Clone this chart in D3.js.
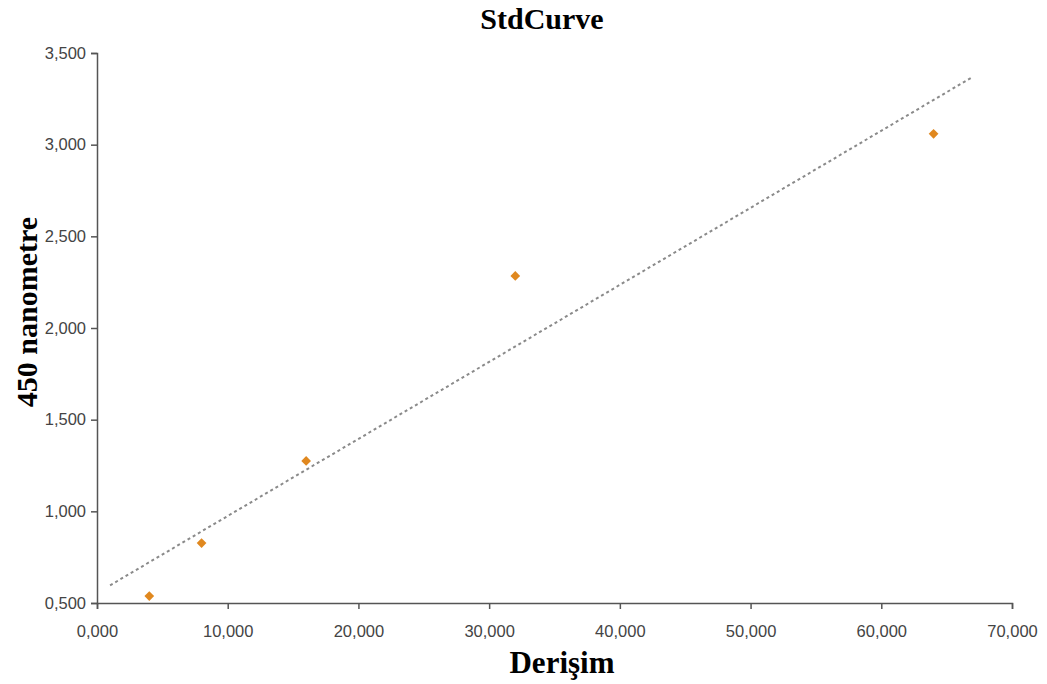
<!DOCTYPE html>
<html>
<head>
<meta charset="utf-8">
<script src="https://cdn.jsdelivr.net/npm/d3@7"></script>
<style>
  body { margin: 0; background: #fff; }
  .axis path, .axis line { stroke: #555; stroke-width: 1.5; }
  .lbl { font-family: "Liberation Serif", "Times New Roman", serif; font-weight: bold; fill: #000; }
</style>
</head>
<body>
<div class="viz"></div>
<script>
// data (concentration, absorbance)
var concentration = [4, 8, 16, 32, 64];
var absorbance = [0.538, 0.827, 1.275, 2.284, 3.059];
var xTicks = [0, 10, 20, 30, 40, 50, 60, 70];
var yTicks = [0.5, 1, 1.5, 2, 2.5, 3, 3.5];
var trendRange = [1, 67];

var width = 1047, height = 684;
var margin = { top: 53, right: 35, bottom: 81, left: 97 };

var svg = d3.select(".viz").append("svg")
  .attr("width", width)
  .attr("height", height);

var x = d3.scaleLinear().domain([0, 70]).range([margin.left, width - margin.right]);
var y = d3.scaleLinear().domain([0.5, 3.5]).range([height - margin.bottom, margin.top]);

// comma as decimal separator, 3 decimals
var fmt = function (d) { return d3.format(".3f")(d).replace(".", ","); };

var xAxis = svg.append("g")
  .attr("class", "axis")
  .attr("transform", "translate(0," + y(0.5) + ")")
  .call(d3.axisBottom(x).tickValues(xTicks).tickFormat(fmt).tickSizeOuter(0).tickSize(6).tickPadding(16));

var yAxis = svg.append("g")
  .attr("class", "axis")
  .attr("transform", "translate(" + x(0) + ",0)")
  .call(d3.axisLeft(y).tickValues(yTicks).tickFormat(fmt).tickSizeOuter(0).tickSize(6).tickPadding(5));

svg.selectAll(".axis text")
  .style("font-family", "Liberation Sans, Arial, sans-serif")
  .style("font-size", "16.5px")
  .style("fill", "#444");

// linear trendline from least squares
var mx = d3.mean(concentration), my = d3.mean(absorbance);
var sxy = d3.sum(concentration, function (c, i) { return (c - mx) * (absorbance[i] - my); });
var sxx = d3.sum(concentration, function (c) { return (c - mx) * (c - mx); });
var slope = sxy / sxx, intercept = my - slope * mx;

svg.append("line")
  .attr("x1", x(trendRange[0]))
  .attr("y1", y(intercept + slope * trendRange[0]))
  .attr("x2", x(trendRange[1]))
  .attr("y2", y(intercept + slope * trendRange[1]))
  .attr("stroke", "#8a8a8a")
  .attr("stroke-width", 2)
  .attr("stroke-dasharray", "3,3");

svg.append("g")
  .selectAll("path")
  .data(concentration)
  .enter()
  .append("path")
  .attr("d", d3.symbol().type(d3.symbolDiamond2).size(60))
  .attr("transform", function (d, i) { return "translate(" + x(d) + "," + y(absorbance[i]) + ")"; })
  .attr("fill", "#e0881f");

svg.append("text")
  .attr("class", "lbl")
  .attr("x", 542)
  .attr("y", 29)
  .attr("text-anchor", "middle")
  .style("font-size", "30px")
  .text("StdCurve");

svg.append("text")
  .attr("class", "lbl")
  .attr("x", 562)
  .attr("y", 673)
  .attr("text-anchor", "middle")
  .style("font-size", "31px")
  .text("Derişim");

svg.append("text")
  .attr("class", "lbl")
  .attr("transform", "translate(37,312)rotate(-90)")
  .attr("text-anchor", "middle")
  .style("font-size", "30px")
  .text("450 nanometre");
</script>
</body>
</html>
